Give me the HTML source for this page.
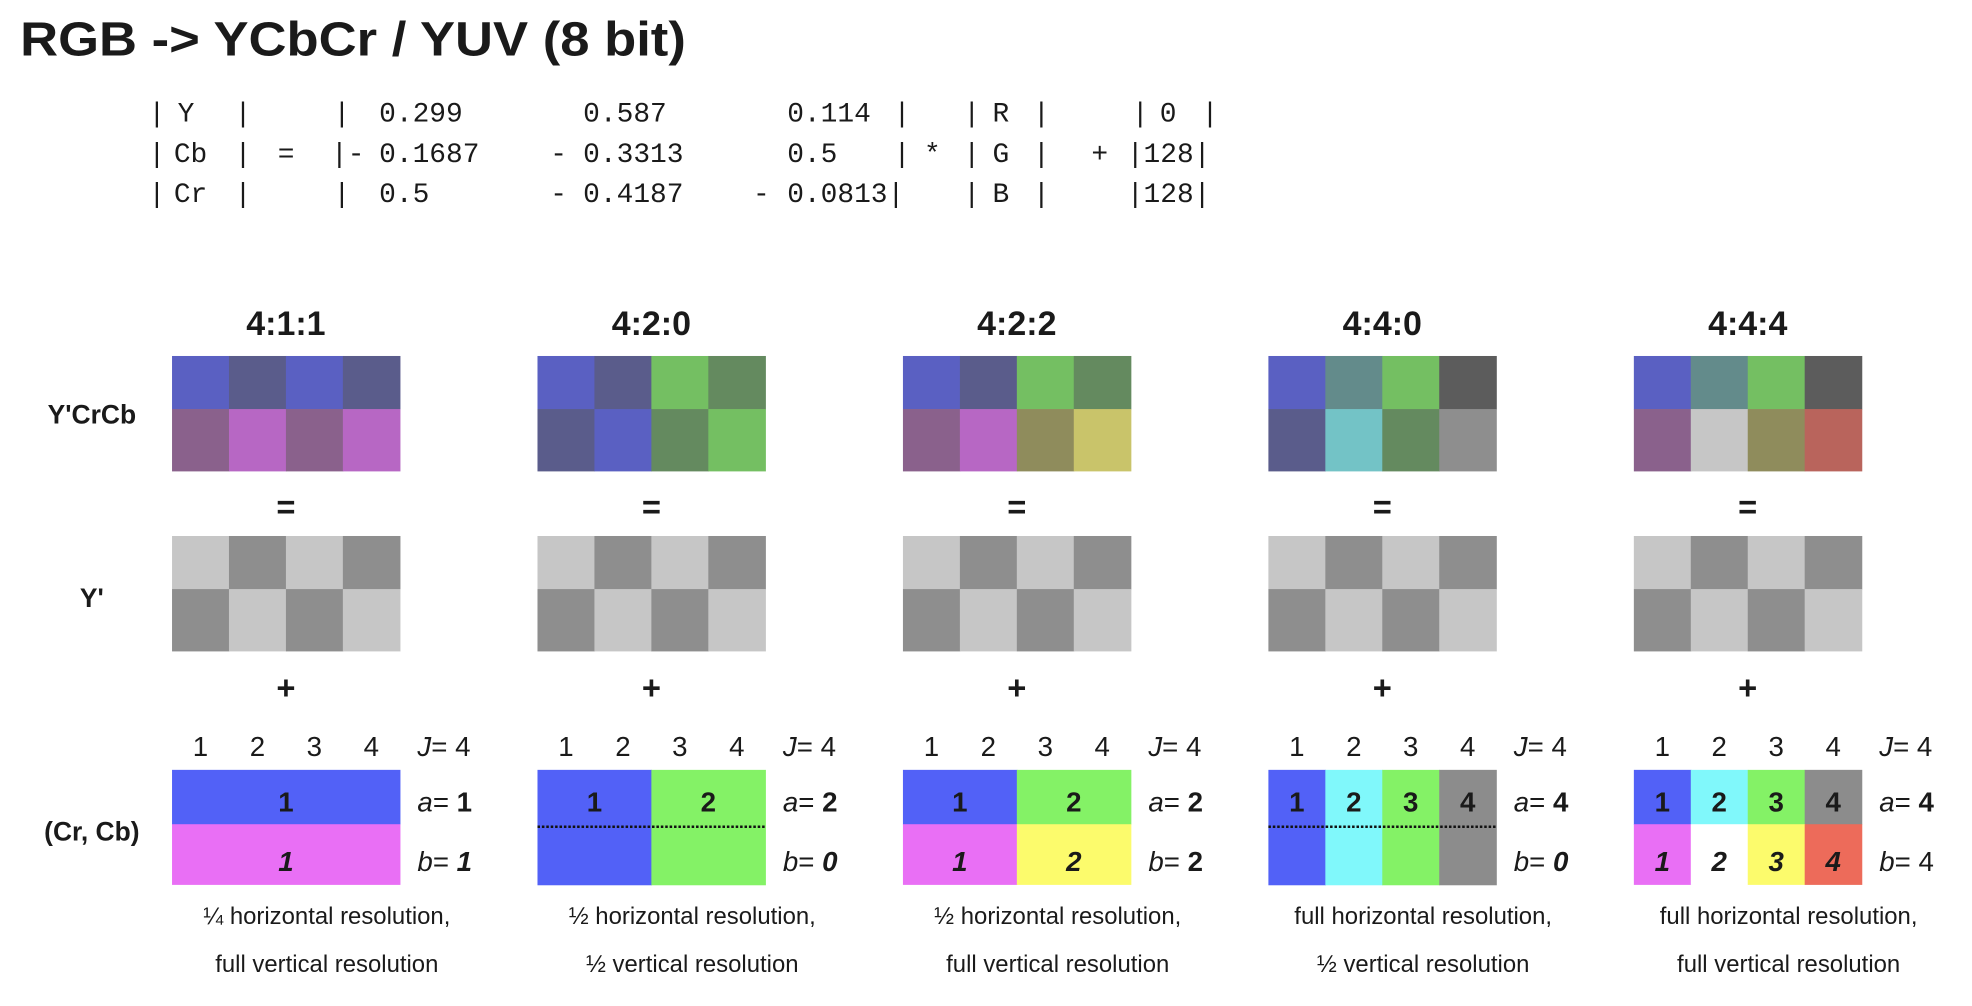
<!DOCTYPE html>
<html><head><meta charset="utf-8">
<style>
html,body{margin:0;padding:0;background:#fff;}
svg{display:block;}
text{font-family:"Liberation Sans",Arial,sans-serif;fill:#1a1a1a;}
.mono{font-family:"Liberation Mono",monospace;font-size:22px;}
</style></head>
<body>
<svg id="fig" width="1972" height="1006" viewBox="0 0 1567 795.8" preserveAspectRatio="none" xmlns="http://www.w3.org/2000/svg">
<text x="16" y="44" font-size="38" font-weight="bold" textLength="529" lengthAdjust="spacingAndGlyphs">RGB -&gt; YCbCr / YUV (8 bit)</text>
<g id="matrix" transform="translate(118 0) scale(1.007 1) translate(-118 0)"></g>
<text x="73" y="335" font-size="21" font-weight="bold" text-anchor="middle">Y'CrCb</text>
<text x="73" y="480" font-size="21" font-weight="bold" text-anchor="middle">Y'</text>
<text x="73" y="665" font-size="21" font-weight="bold" text-anchor="middle">(Cr, Cb)</text>
<g id="blocks"></g>
</svg>
<script>
const NS='http://www.w3.org/2000/svg';
const svg=document.getElementById('fig');
function mk(tag,attrs,parent,txt){const e=document.createElementNS(NS,tag);for(const k in attrs)e.setAttribute(k,attrs[k]);if(txt!==undefined)e.textContent=txt;parent.appendChild(e);return e;}

// matrix tokens [x, text]
const matRow1=[[118,'|'],[141,'Y'],[186,'|'],[264,'|'],[300,'0.299'],[461,'0.587'],[622,'0.114'],[706,'|'],[761,'|'],[784,'R'],[816,'|'],[894,'|'],[916,'0'],[949,'|']];
const matRow2=[[118,'|'],[138,'Cb'],[186,'|'],[220,'='],[262,'|-'],[300,'0.1687'],[435,'-'],[461,'0.3313'],[622,'0.5'],[706,'|'],[730,'*'],[761,'|'],[784,'G'],[816,'|'],[862,'+'],[890,'|128|']];
const matRow3=[[118,'|'],[138,'Cr'],[186,'|'],[264,'|'],[300,'0.5'],[435,'-'],[461,'0.4187'],[595,'-'],[622,'0.0813|'],[761,'|'],[784,'B'],[816,'|'],[890,'|128|']];
const matrix=document.getElementById('matrix');
[[matRow1,96],[matRow2,128],[matRow3,160]].forEach(([row,y])=>{
  row.forEach(([x,t])=>{
    const e=mk('text',{x:x,y:y,class:'mono'},matrix,t);
    
    
  });
});

// colours
const C={B:'#5a60c2',Bd:'#5a5c8b',G:'#74bf62',Gd:'#648a5f',M:'#8a618c',Ml:'#b767c4',Ol:'#8f8c5c',Y:'#c9c46a',T:'#638b8b',Tl:'#73c3c6',Dk:'#5c5c5c',Gr:'#8e8e8e',Lg:'#c6c6c6',R:'#b9645c'};
const K={b:'#5261f7',g:'#84f266',m:'#e96ff5',y:'#fcfb6c',c:'#80f8fb',k:'#8c8c8c',r:'#ed6b5a',w:'#ffffff'};

const titles=['4:1:1','4:2:0','4:2:2','4:4:0','4:4:4'];
const topGrids=[
 [['B','Bd','B','Bd'],['M','Ml','M','Ml']],
 [['B','Bd','G','Gd'],['Bd','B','Gd','G']],
 [['B','Bd','G','Gd'],['M','Ml','Ol','Y']],
 [['B','T','G','Dk'],['Bd','Tl','Gd','Gr']],
 [['B','T','G','Dk'],['M','Lg','Ol','R']]
];
const chromaTop=[
 [[4,'b','1']],
 [[2,'b','1'],[2,'g','2']],
 [[2,'b','1'],[2,'g','2']],
 [[1,'b','1'],[1,'c','2'],[1,'g','3'],[1,'k','4']],
 [[1,'b','1'],[1,'c','2'],[1,'g','3'],[1,'k','4']]
];
const chromaBottom=[
 [[4,'m','1']],
 null,
 [[2,'m','1'],[2,'y','2']],
 null,
 [[1,'m','1'],[1,'w','2'],[1,'y','3'],[1,'r','4']]
];
const aVals=['1','2','2','4','4'];
const bVals=['1','0','2','0','4'];
const bStyle=['bi','bi','b','bi','n'];
const note1=['¼ horizontal resolution,','½ horizontal resolution,','½ horizontal resolution,','full horizontal resolution,','full horizontal resolution,'];
const note2=['full vertical resolution','½ vertical resolution','full vertical resolution','½ vertical resolution','full vertical resolution'];
const yPattern=[[1,0,1,0],[0,1,0,1]];

const X0=136.7, STEP=290.4, W=181, CW=W/4;
const topY=[281.6,323.6,372.6], yY=[424,466,515], chY=[609,652,700];
const blocks=document.getElementById('blocks');
titles.forEach((t,i)=>{
  const x0=X0+STEP*i;
  const g=mk('g',{},blocks);
  
  
  const tt=mk('text',{x:x0+W/2,y:265,'font-size':27,'font-weight':'bold','text-anchor':'middle'},g,t);
  
  
  topGrids[i].forEach((row,r)=>row.forEach((c,j)=>{
    const e=mk('rect',{x:x0+j*CW,y:topY[r],width:CW+0.5,height:topY[r+1]-topY[r]+0.3,fill:C[c]},g);
    
    
  }));
  const eq=mk('text',{x:x0+W/2,y:410,'font-size':26,'font-weight':'bold','text-anchor':'middle'},g,'=');
  
  
  yPattern.forEach((row,r)=>row.forEach((v,j)=>{
    const e=mk('rect',{x:x0+j*CW,y:yY[r],width:CW+0.5,height:yY[r+1]-yY[r]+0.3,fill:v?'#c6c6c6':'#8e8e8e'},g);
    
    
  }));
  const pl=mk('text',{x:x0+W/2,y:553,'font-size':26,'font-weight':'bold','text-anchor':'middle'},g,'+');
  
  
  for(let j=0;j<4;j++){
    const e=mk('text',{x:x0+CW*(j+0.5),y:598,'font-size':22,'text-anchor':'middle'},g,String(j+1));
    
    
  }
  let col=0;
  chromaTop[i].forEach(([s,c,l])=>{
    const bottomH=chromaBottom[i]?0:(chY[2]-chY[1]);
    const e=mk('rect',{x:x0+col*CW,y:chY[0],width:s*CW+0.5,height:chY[1]-chY[0]+bottomH+0.3,fill:K[c]},g);
    
    
    const n=mk('text',{x:x0+(col+s/2)*CW,y:642,'font-size':22,'font-weight':'bold','text-anchor':'middle'},g,l);
    
    
    col+=s;
  });
  if(chromaBottom[i]){
    col=0;
    chromaBottom[i].forEach(([s,c,l])=>{
      const e=mk('rect',{x:x0+col*CW,y:chY[1],width:s*CW+0.5,height:chY[2]-chY[1],fill:K[c]},g);
      
      
      const n=mk('text',{x:x0+(col+s/2)*CW,y:689,'font-size':22,'font-weight':'bold','font-style':'italic','text-anchor':'middle'},g,l);
      
      
      col+=s;
    });
  } else {
    const d=mk('line',{x1:x0,x2:x0+W,y1:chY[1]+2,y2:chY[1]+2,stroke:'#111','stroke-width':2,'stroke-dasharray':'2 1.5'},g);
    
    
  }
  const lx=x0+195;
  const j=mk('text',{x:lx,y:598,'font-size':22},g);
  
  
  mk('tspan',{'font-style':'italic'},j,'J');mk('tspan',{},j,'= 4');
  const a=mk('text',{x:lx,y:642,'font-size':22},g);
  
  
  mk('tspan',{'font-style':'italic'},a,'a');mk('tspan',{},a,'= ');mk('tspan',{'font-weight':'bold'},a,aVals[i]);
  const b=mk('text',{x:lx,y:689,'font-size':22},g);
  
  
  mk('tspan',{'font-style':'italic'},b,'b');mk('tspan',{},b,'= ');
  const st=bStyle[i]==='bi'?{'font-weight':'bold','font-style':'italic'}:(bStyle[i]==='b'?{'font-weight':'bold'}:{'font-weight':'normal'});
  mk('tspan',st,b,bVals[i]);
  const n1=mk('text',{x:x0+123,y:731,'font-size':19,'text-anchor':'middle'},g,note1[i]);
  
  
  const n2=mk('text',{x:x0+123,y:769,'font-size':19,'text-anchor':'middle'},g,note2[i]);
  
  
});
</script>
</body></html>
